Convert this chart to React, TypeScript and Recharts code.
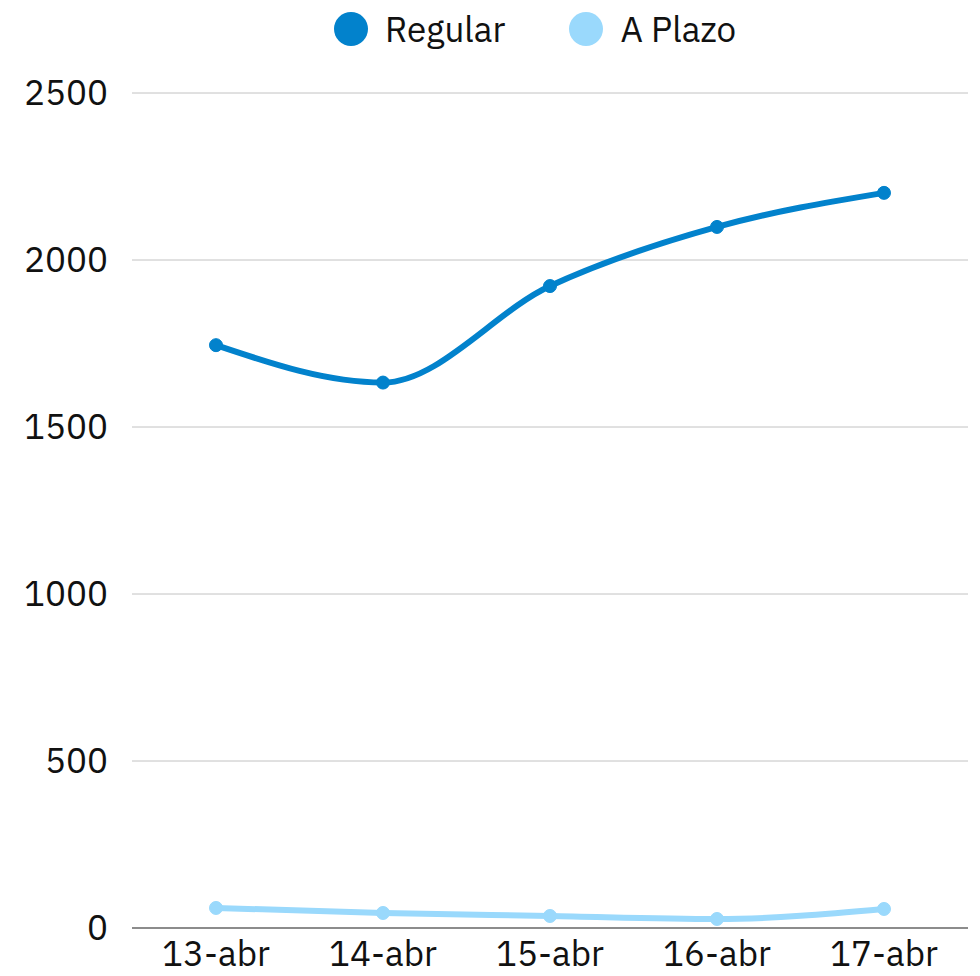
import React from 'react';
import { LineChart, Line, XAxis, YAxis, CartesianGrid, Legend } from 'recharts';

const days = ['13-abr', '14-abr', '15-abr', '16-abr', '17-abr'];
const regular = [1745, 1633, 1922, 2099, 2201];
const aPlazo = [60, 45, 36, 27, 57];
const yTicks = [0, 500, 1000, 1500, 2000, 2500];
const seriesOrder = ['Regular', 'A Plazo'];

const FONT = '"IBM Plex Sans", "Noto Sans", "Open Sans", sans-serif';

const data = days.map((day, i) => ({ day, regular: regular[i], aPlazo: aPlazo[i] }));

// legend with big round markers, centred over the plot area
const renderLegend = (props: any) => {
  const items = [...(props.payload || [])].sort(
    (a: any, b: any) => seriesOrder.indexOf(a.value) - seriesOrder.indexOf(b.value)
  );
  return (
    <div style={{ display: 'flex', justifyContent: 'center', gap: 64, paddingLeft: 102, fontFamily: FONT, fontSize: 35 }}>
      {items.map((entry: any) => (
        <div key={entry.value} style={{ display: 'flex', alignItems: 'center' }}>
          <span
            style={{
              display: 'inline-block',
              width: 34,
              height: 34,
              borderRadius: '50%',
              background: entry.color,
              marginRight: 17
            }}
          />
          <span style={{ color: '#111' }}>{entry.value}</span>
        </div>
      ))}
    </div>
  );
};

const App: React.FC = () => {
  return (
    <div style={{ width: 980, height: 976, background: '#fff' }}>
      <style>{'body { margin: 0; }'}</style>
      <LineChart width={980} height={976} data={data} margin={{ top: 6, right: 12, bottom: 0, left: 0 }}>
        <CartesianGrid vertical={false} stroke="#c2c2c2" />
        <Legend verticalAlign="top" height={87} content={renderLegend} />
        <XAxis
          dataKey="day"
          height={48}
          padding={{ left: 84, right: 84 }}
          tickLine={false}
          axisLine={{ stroke: '#8c8c8c', strokeWidth: 2 }}
          tickMargin={7}
          tick={{ fill: '#111', fontSize: 35, fontFamily: FONT }}
          interval={0}
        />
        <YAxis
          width={132}
          domain={[0, 2500]}
          ticks={yTicks}
          tickLine={false}
          axisLine={false}
          tickMargin={18}
          tick={{ fill: '#111', fontSize: 35, fontFamily: FONT }}
        />
        <Line
          name="Regular"
          type="monotone"
          dataKey="regular"
          stroke="#0282cc"
          strokeWidth={6}
          dot={{ r: 6.5, fill: '#0282cc', stroke: '#0282cc', strokeWidth: 1 }}
          isAnimationActive={false}
        />
        <Line
          name="A Plazo"
          type="monotone"
          dataKey="aPlazo"
          stroke="#9ad9fc"
          strokeWidth={6}
          dot={{ r: 6.5, fill: '#9ad9fc', stroke: '#9ad9fc', strokeWidth: 1 }}
          isAnimationActive={false}
        />
      </LineChart>
    </div>
  );
};

export default App;
